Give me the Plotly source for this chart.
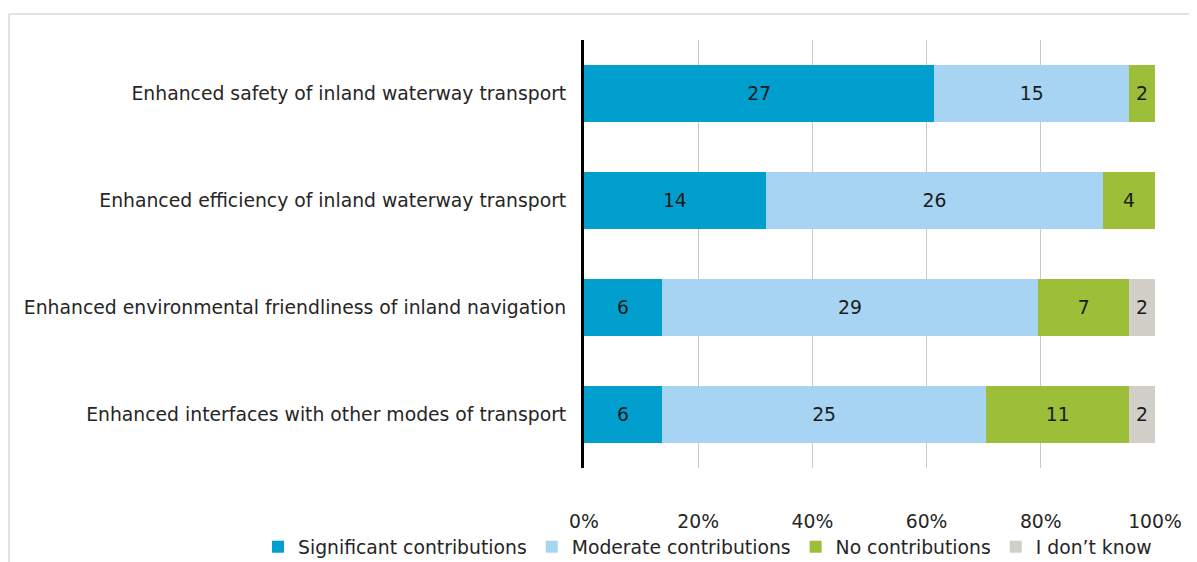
import plotly.graph_objects as go

categories = [
    "Enhanced safety of inland waterway transport",
    "Enhanced efficiency of inland waterway transport",
    "Enhanced environmental friendliness of inland navigation",
    "Enhanced interfaces with other modes of transport",
]
series_names = ["Significant contributions", "Moderate contributions", "No contributions", "I don\u2019t know"]
significant = [27, 14, 6, 6]
moderate = [15, 26, 29, 25]
no_contrib = [2, 4, 7, 11]
dont_know = [0, 0, 2, 2]
tick_values = [0, 20, 40, 60, 80, 100]
tick_labels = ["0%", "20%", "40%", "60%", "80%", "100%"]

colors = ["#009FCE", "#A8D4F4", "#9DBE38", "#D1CFC7"]
all_series = [significant, moderate, no_contrib, dont_know]
totals = [sum(v) for v in zip(*all_series)]

FONT = "DejaVu Sans"
FS = 18.8
# page body has an 8px margin; figure is sized so it fits the window
W, H = 1189, 554
L, R, T, B = 576, 42, 32, 94
PW, PH = W - L - R, H - T - B

fig = go.Figure()
for name, vals, col in zip(series_names, all_series, colors):
    pct = [v / t * 100 for v, t in zip(vals, totals)]
    fig.add_trace(go.Bar(
        y=categories, x=pct, name=name, orientation="h",
        marker=dict(color=col, line=dict(width=0)),
        text=[str(v) if v else "" for v in vals],
        textposition="inside", insidetextanchor="middle",
        textfont=dict(family=FONT, size=FS, color="#1a1a1a"),
        hoverinfo="skip",
    ))

fig.update_layout(
    barmode="stack", bargap=0.46,
    width=W, height=H,
    margin=dict(l=L, r=R, t=T, b=B, autoexpand=False),
    paper_bgcolor="white", plot_bgcolor="white",
    font=dict(family=FONT, size=FS, color="#262626"),
    uniformtext=dict(minsize=10, mode="show"),
    xaxis=dict(range=[0, 100], tickvals=tick_values, ticktext=tick_labels,
               showgrid=True, gridcolor="#C9C9C9", gridwidth=1,
               zeroline=False, showline=False, ticks="",
               tickfont=dict(size=FS, color="#262626"), ticklabelstandoff=40),
    yaxis=dict(autorange="reversed", showline=True, linecolor="black", linewidth=3,
               ticks="", showgrid=False, ticklabelstandoff=11,
               tickfont=dict(size=FS, color="#262626")),
    legend=dict(orientation="h", xref="paper", yref="paper",
                x=(250 - L) / PW, xanchor="left", y=-(539 - (H - B)) / PH, yanchor="middle",
                font=dict(size=FS, color="#262626"), traceorder="normal",
                itemwidth=30),
    showlegend=True,
    shapes=[
        dict(type="line", xref="paper", yref="paper",
             x0=(1 - L) / PW, x1=(W + 10 - L) / PW,
             y0=1 + (T - 6) / PH, y1=1 + (T - 6) / PH, line=dict(color="#D9D9D9", width=1.5)),
        dict(type="line", xref="paper", yref="paper",
             x0=(1 - L) / PW, x1=(1 - L) / PW,
             y0=1 + (T - 6) / PH, y1=-(B + 10) / PH, line=dict(color="#D9D9D9", width=1.5)),
    ],
)
fig.write_html("out.html")
